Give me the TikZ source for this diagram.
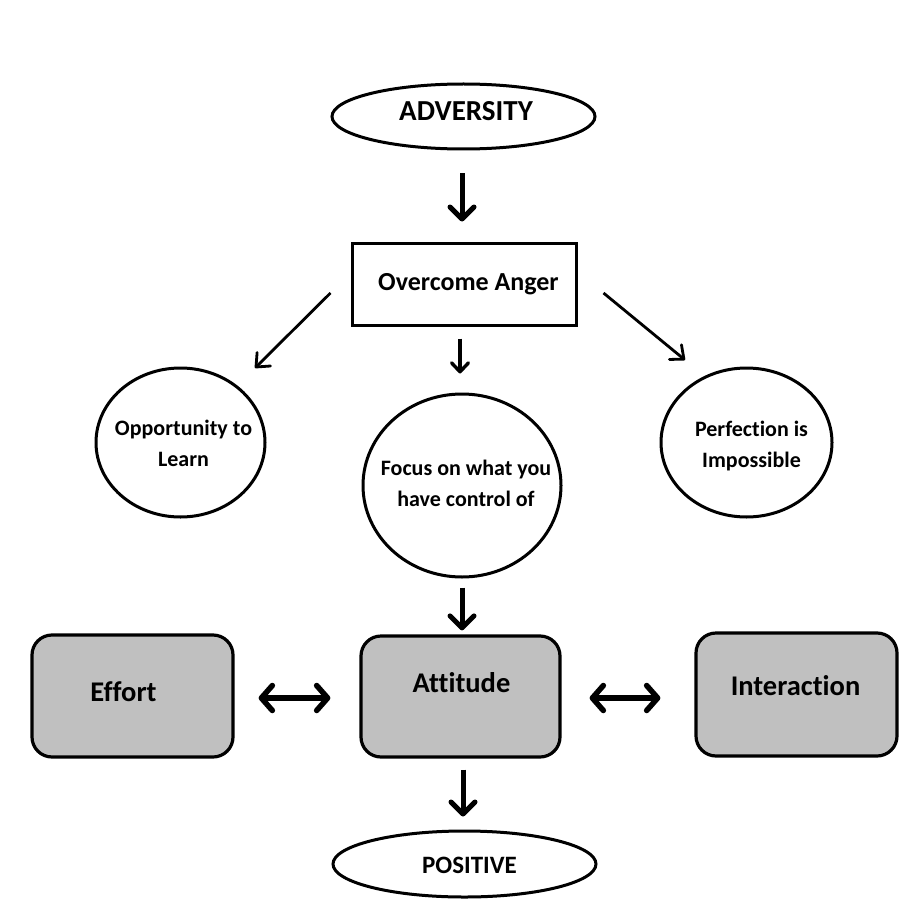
\documentclass[tikz,border=0pt]{standalone}
\usepackage{fontspec}
\setmainfont{Carlito}[Ligatures=NoCommon]
\usetikzlibrary{shapes.geometric,arrows.meta}
\definecolor{boxgray}{RGB}{192,192,192}
\begin{document}
\begin{tikzpicture}[x=1pt,y=-1pt,
  ellnode/.style={ellipse, draw, line width=3pt, inner sep=0pt},
  rectnode/.style={rectangle, draw, line width=3pt, inner sep=0pt},
  roundnode/.style={rectangle, rounded corners=20pt, draw, line width=3.2pt, fill=boxgray, inner sep=0pt, minimum width=201pt, minimum height=122pt},
  lbl/.style={font=\bfseries\fontsize{22}{31}\selectfont, align=center, inner sep=0pt},
  biglbl/.style={font=\bfseries\fontsize{28.5}{32}\selectfont, inner sep=0pt, anchor=base},
  bigarrow/.style={line width=5pt, -{Straight Barb[length=12pt,width=24pt,round]}},
  medarrow/.style={line width=3.4pt, -{Straight Barb[length=9pt,width=17pt,round]}},
  thinarrow/.style={line width=2.8pt, -{Straight Barb[length=11pt,width=19pt,round]}},
  dblarrow/.style={line width=5.5pt, {Straight Barb[length=11pt,width=25pt,round]}-{Straight Barb[length=11pt,width=25pt,round]}}
]
\fill[white] (0,0) rectangle (900,920);
\useasboundingbox (0,0) rectangle (900,920);

% shapes
\node[ellnode, minimum width=263pt, minimum height=65pt] (adv) at (463.5,116.5) {};
\node[biglbl, font=\bfseries\fontsize{29}{32}\selectfont] (advt) at (466,121) {ADVERSITY};

\node[rectnode, minimum width=224pt, minimum height=82pt] (oa) at (464,284) {};
\node[font=\bfseries\fontsize{26}{30}\selectfont, inner sep=0pt, anchor=base] (oat) at (468.5,290) {Overcome Anger};

\node[ellnode, minimum width=169pt, minimum height=149pt] (opp) at (180.5,442.5) {};
\node[lbl] (oppt) at (183.5,443) {Opportunity to\\Learn};

\node[ellnode, minimum width=198pt, minimum height=183pt] (foc) at (462,485.5) {};
\node[lbl] (foct) at (466,483) {Focus on what you\\have control of};

\node[ellnode, minimum width=171pt, minimum height=149pt] (perf) at (746.5,442.5) {};
\node[lbl] (perft) at (751.5,446) {Perfection is\\Impossible};

\node[roundnode] (eff) at (132.5,696) {};
\node[biglbl] (efft) at (123.5,701) {Effort};

\node[roundnode, minimum width=199pt, minimum height=121pt] (att) at (460.5,696.5) {};
\node[biglbl] (attt) at (461.5,692) {Attitude};

\node[roundnode, minimum height=123pt] (int) at (796.5,694.5) {};
\node[biglbl] (intt) at (795.5,695) {Interaction};

\node[ellnode, minimum width=263pt, minimum height=66pt] (pos) at (464.5,864) {};
\node[font=\bfseries\fontsize{25}{30}\selectfont, inner sep=0pt, anchor=base] (post) at (469.5,873) {POSITIVE};

% connectors
\draw[bigarrow] ([xshift=-1.5pt,yshift=-23pt]adv.south) -- ([xshift=-2pt,yshift=20pt]oa.north);
\draw[medarrow] ([xshift=-4pt,yshift=-12pt]oa.south) -- ([xshift=-2pt,yshift=19pt]foc.north);
\draw[thinarrow] ([shift={(-20pt,-9pt)}]oa.west) -- ([shift={(74.5pt,74.5pt)}]opp.center);
\draw[thinarrow] ([shift={(26pt,-9pt)}]oa.east) -- ([shift={(-61.5pt,82.5pt)}]perf.center);
\draw[bigarrow] ([yshift=-9pt]foc.south) -- ([xshift=1.5pt,yshift=4pt]att.north);
\draw[bigarrow] ([xshift=2.5pt,yshift=-11pt]att.south) -- ([xshift=-1.5pt,yshift=13pt]pos.north);
\draw[dblarrow] ([shift={(24pt,-2pt)}]eff.east) -- ([shift={(-29pt,-1.5pt)}]att.west);
\draw[dblarrow] ([shift={(28pt,-1.5pt)}]att.east) -- ([shift={(-34pt,-3.5pt)}]int.west);
\end{tikzpicture}
\end{document}
